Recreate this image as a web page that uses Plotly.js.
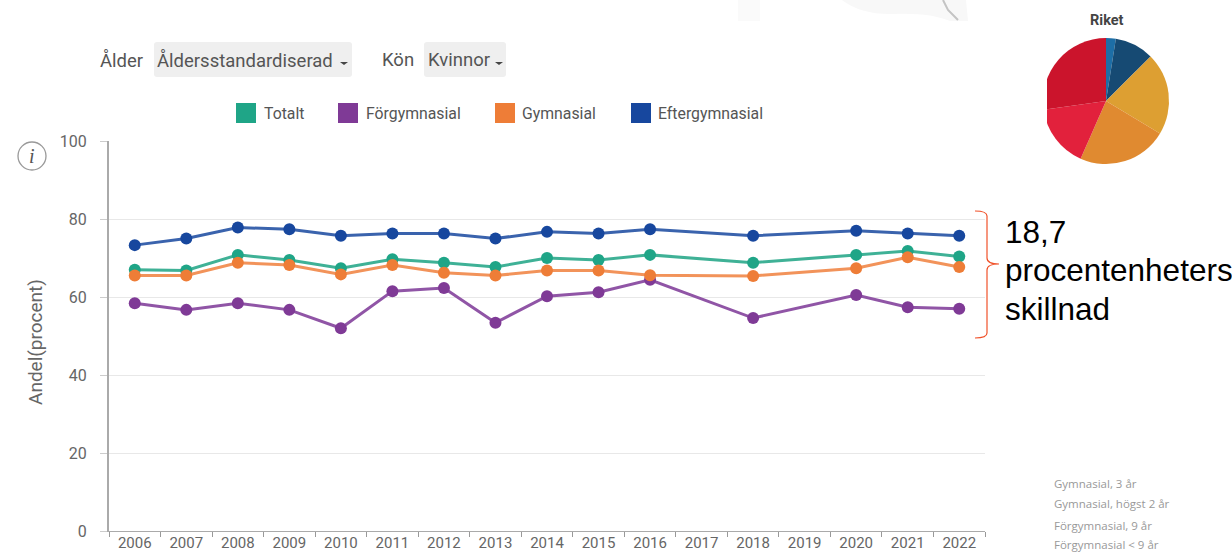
<!DOCTYPE html>
<html><head><meta charset="utf-8">
<script src="https://cdn.plot.ly/plotly-3.0.1.min.js"></script>
<style>html,body{margin:0;padding:0;background:#fff;overflow:hidden}#c{width:1232px;height:552px}</style>
</head><body><div id="c"></div>
<script>
const years=["2006","2007","2008","2009","2010","2011","2012","2013","2014","2015","2016","2017","2018","2019","2020","2021","2022"];
const totalt=[67,66.8,70.8,69.5,67.4,69.7,68.8,67.7,70,69.5,70.8,null,68.8,null,70.8,71.8,70.4];
const forgymnasial=[58.4,56.7,58.4,56.7,52,61.5,62.3,53.4,60.2,61.2,64.4,null,54.6,null,60.5,57.4,57];
const gymnasial=[65.5,65.5,68.8,68.2,65.8,68.2,66.2,65.5,66.8,66.8,65.6,null,65.4,null,67.4,70.2,67.7];
const eftergymnasial=[73.3,75,77.8,77.4,75.7,76.3,76.3,75,76.7,76.3,77.4,null,75.7,null,77,76.3,75.7];
const seriesNames=["Totalt","Förgymnasial","Gymnasial","Eftergymnasial"];
const seriesColors=["#1fa587","#7f3a96","#ee7d37","#17479e"];
const lineColors=["#3fb196","#9055a6","#f2935a","#3a63ad"];
const pieShares=[2.5,10,21.1,23,16.2,27.2];
const pieColors=["#1d6ea6","#164a73","#dd9f32","#e08a30","#e2213c","#cb142c"];
const pieNames=["Andel 1","Andel 2","Gymnasial, 3 år","Gymnasial, högst 2 år","Förgymnasial, 9 år","Förgymnasial < 9 år"];
const pieLegend=["Gymnasial, 3 år","Gymnasial, högst 2 år","Förgymnasial, 9 år","Förgymnasial < 9 år"];

const W=1232,H=552,L=109,R=985,T=141,B=531;
const px=x=>x/W, py=y=>1-y/H;
const sansFont="Roboto, sans-serif";
const traces=[totalt,forgymnasial,gymnasial,eftergymnasial].map((v,i)=>({
  type:"scatter",mode:"lines+markers",x:years,y:v,name:seriesNames[i],connectgaps:true,
  line:{color:lineColors[i],width:3},marker:{color:seriesColors[i],size:12},
  showlegend:false,hovertemplate:"%{x}: %{y}<extra>"+seriesNames[i]+"</extra>"}));
traces.push({type:"pie",values:pieShares,labels:pieNames,sort:false,direction:"clockwise",rotation:0,
  marker:{colors:pieColors,line:{width:0}},textinfo:"none",showlegend:false,
  domain:{x:[px(1043),px(1169)],y:[py(164),py(38)]},hoverinfo:"label+percent"});

const rect=(x0,y0,x1,y1,fill)=>({type:"rect",xref:"paper",yref:"paper",layer:"above",x0:px(x0),x1:px(x1),y0:py(y1),y1:py(y0),fillcolor:fill,line:{width:0}});
const text=(x,y,t,o={})=>({xref:"paper",yref:"paper",x:px(o.anchor?x:x-2),y:py(y),text:t,showarrow:false,xanchor:o.anchor||"left",yanchor:"middle",
  font:{family:o.family||sansFont,size:o.size||14,color:o.color||"#555"}});
const pathPx=pts=>pts.map((p,i)=>(p.length===2?(i?"L":"M")+px(p[0])+","+py(p[1]):"Q"+px(p[0])+","+py(p[1])+" "+px(p[2])+","+py(p[3]))).join(" ");
const caret=(x,y)=>({type:"path",xref:"paper",yref:"paper",layer:"above",path:pathPx([[x,y],[x+8,y],[x+4,y+3]])+" Z",fillcolor:"#444",line:{width:0}});
const round=(x0,y0,x1,y1)=>({type:"path",xref:"paper",yref:"paper",layer:"below",fillcolor:"#efefef",line:{width:0},
  path:pathPx([[x0+3,y0],[x1-3,y0],[x1,y0,x1,y0+3],[x1,y1-3],[x1,y1,x1-3,y1],[x0+3,y1],[x0,y1,x0,y1-3],[x0,y0+3],[x0,y0,x0+3,y0]])+" Z"});

const legendX=[236,338,495,631], legendTextX=[264,366,522,658];
const shapes=[
  rect(738,0,760,21,"#fafafa"),
  {type:"path",xref:"paper",yref:"paper",layer:"above",fillcolor:"#f8f8f8",line:{width:0},
   path:pathPx([[842,0],[966,0],[968,21],[950,21],[930,12,890,14],[860,14,842,0]])+" Z"},
  {type:"path",xref:"paper",yref:"paper",layer:"above",line:{color:"#c4c4c4",width:2},path:pathPx([[943,0],[948,10],[958,20]])},
  round(154,42,352,77),round(424,42,506,77),
  caret(340,62),caret(495,62),
  ...seriesColors.map((c,i)=>rect(legendX[i],103,legendX[i]+20,123,c)),
  rect(1030,30,1047,175,"#ffffff"),
  {type:"circle",xref:"paper",yref:"paper",layer:"above",x0:px(18),x1:px(46),y0:py(170),y1:py(142),line:{color:"#999",width:1.3},fillcolor:"#fff"},
  {type:"path",xref:"paper",yref:"paper",layer:"above",line:{color:"#f0522a",width:1.2},
   path:pathPx([[975,211],[987,211,987,216],[987,258],[987,264,999,264],[987,264,987,270],[987,333],[987,338,975,338]])}
];
const annotations=[
  text(100,60,"Ålder",{size:18.5}),
  text(157,60,"Åldersstandardiserad",{size:18.5}),
  text(382,60,"Kön",{size:18.5}),
  text(428,60,"Kvinnor",{size:18.5}),
  ...seriesNames.map((n,i)=>text(legendTextX[i],113,n,{size:15.8})),
  text(32,156,"<i>i</i>",{anchor:"center",family:"Liberation Serif, serif",size:20,color:"#555"}),
  text(1107,20,"<b>Riket</b>",{anchor:"center",size:14.5,color:"#444"}),
  text(1005,232,"18,7",{family:"Liberation Sans, Arial, sans-serif",size:31.5,color:"#000"}),
  text(1005,270,"procentenheters",{family:"Liberation Sans, Arial, sans-serif",size:31.5,color:"#000"}),
  text(1005,309,"skillnad",{family:"Liberation Sans, Arial, sans-serif",size:31.5,color:"#000"}),
  ...pieLegend.map((n,i)=>text(1054,[483,504,525,544][i],n,{family:"Open Sans, sans-serif",size:11.5,color:"#999"})),
  {xref:"paper",yref:"paper",x:px(35),y:py(342),text:"Andel(procent)",textangle:-90,showarrow:false,xanchor:"center",yanchor:"middle",font:{family:sansFont,size:19,color:"#666"}}
];
Plotly.newPlot("c",traces,{
  width:W,height:H,paper_bgcolor:"#fff",plot_bgcolor:"#fff",showlegend:false,
  margin:{l:0,r:0,t:0,b:0,pad:0},
  xaxis:{domain:[px(L),px(R)],type:"category",categoryorder:"array",categoryarray:years,range:[-0.5,16.5],tickmode:"array",tickvals:years,ticktext:years,
    tickson:"boundaries",ticks:"outside",ticklen:5,tickcolor:"#999",showline:true,linecolor:"#aaa",linewidth:1,showgrid:false,zeroline:false,
    ticklabelstandoff:-2,tickfont:{family:sansFont,size:15,color:"#666"},fixedrange:true},
  yaxis:{domain:[py(B),py(T)],range:[0,100],tickvals:[0,20,40,60,80,100],ticks:"outside",ticklen:7,tickcolor:"#ccc",showline:true,linecolor:"#aaa",linewidth:2,
    ticklabelstandoff:10,gridcolor:"#e8e8e8",gridwidth:1,zeroline:false,tickfont:{family:sansFont,size:16,color:"#666"},fixedrange:true},
  shapes,annotations
},{displayModeBar:false});
</script></body></html>
